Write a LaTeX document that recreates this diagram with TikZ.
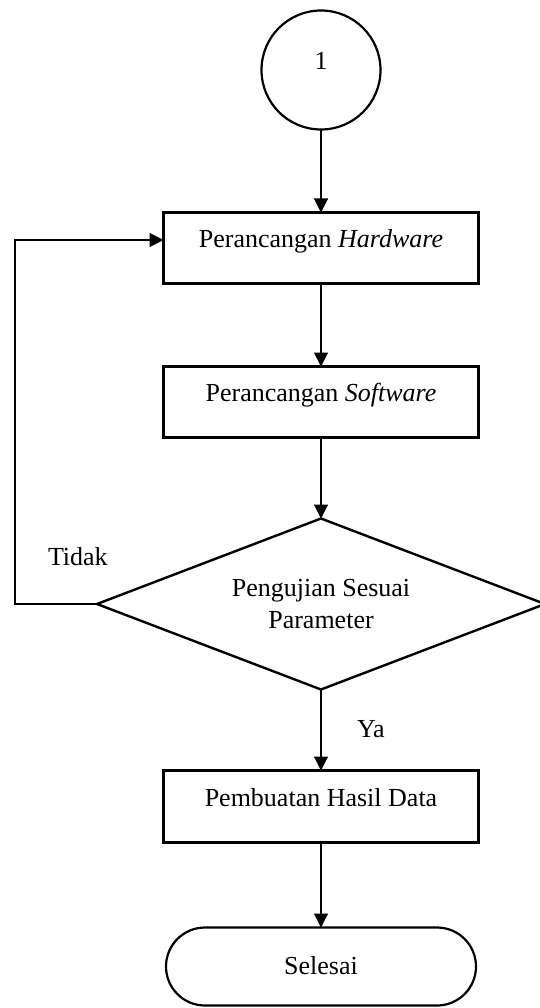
\documentclass[tikz,border=0pt]{standalone}
\usepackage{fontspec}
\setmainfont{Liberation Serif}
\usetikzlibrary{positioning,shapes.geometric,arrows.meta}

\begin{document}
\begin{tikzpicture}[x=1pt, y=1pt, node distance=83pt,
	font=\fontsize{26}{32.5}\selectfont,
	every node/.style={outer sep=0pt},
	kotak/.style={draw, line width=2.4pt, minimum width=315pt, inner sep=0pt, text height=35pt, text depth=36pt},
	panah/.style={-{Triangle[width=14pt,length=14pt]}, line width=1.1pt}]
	\useasboundingbox (0,0) rectangle (539,-1008);
	\node (mulai) [draw, circle, line width=2.2pt, minimum size=119pt, inner sep=0pt, text height=0pt, text depth=0pt] at (321,-70) {1};
	\node (hw) [kotak, below=of mulai] {Perancangan \textit{Hardware}};
	\node (sw) [kotak, below=of hw] {Perancangan \textit{Software}};
	\node (uji) [draw, diamond, shape aspect=2.62, line width=2.4pt, minimum width=448pt, minimum height=171pt, inner sep=0pt, align=center, below=81pt of sw] {Pengujian Sesuai\\Parameter};
	\node (hasil) [kotak, text height=36pt, below=81pt of uji] {Pembuatan Hasil Data};
	\node (selesai) [draw, rounded corners=39pt, line width=2.2pt, minimum width=310pt, minimum height=78pt, inner sep=0pt, text height=47pt, text depth=31pt, below=85pt of hasil] {Selesai};
	\node (tidak) [anchor=base west, inner sep=0pt] at (48,-565) {Tidak};
	\node (ya) [anchor=base west, inner sep=0pt] at (357,-737) {Ya};
	
	\draw[panah] (mulai) -- (hw);
	\draw[panah] (hw) -- (sw);
	\draw[panah] (sw) -- (uji);
	\draw[panah] (uji) -- (hasil);
	\draw[panah] (hasil) -- (selesai);
	\draw[panah] (uji.west) -- ++(-82,0) |- ([yshift=8pt]hw.west);
\end{tikzpicture}
\end{document}
